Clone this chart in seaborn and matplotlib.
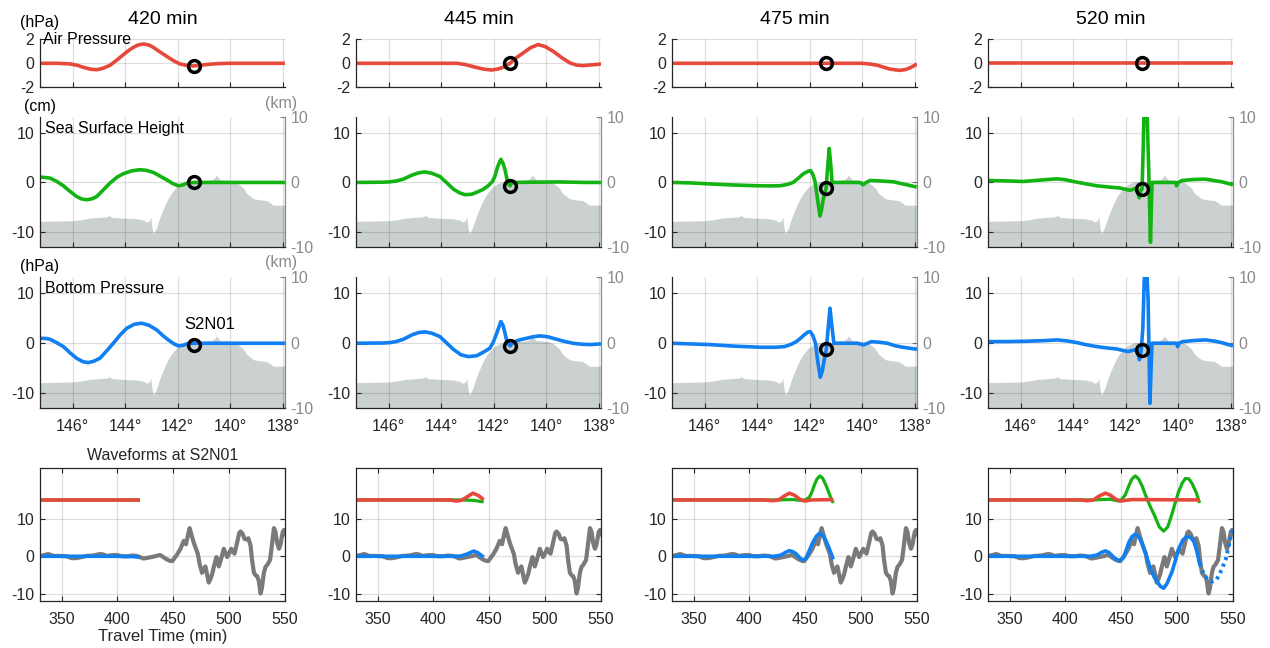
import matplotlib
matplotlib.use("Agg")
import matplotlib.pyplot as plt
import numpy as np
import pandas as pd
import seaborn as sns

# ---------------- data ----------------
times = [420, 445, 475, 520]
titles = ["420 min", "445 min", "475 min", "520 min"]
station_name = "S2N01"
station_lon = 141.38
lon_ticks = [146, 144, 142, 140, 138]
lon_tick_labels = ["146°", "144°", "142°", "140°", "138°"]
time_ticks = [350, 400, 450, 500, 550]

bathy_lon = [147.24, 146.6, 145.97, 145.6, 145.34, 145.0, 144.7, 144.6, 144.5, 144.1, 143.56, 143.3,
             143.18, 143.08, 143.03, 142.98, 142.93, 142.86, 142.8, 142.68, 142.55, 142.42, 142.3,
             142.17, 142.04, 141.85, 141.66, 141.4, 141.16, 140.9, 140.7, 140.6, 140.52, 140.45,
             140.4, 140.1, 139.89, 139.75, 139.64, 139.5, 139.38, 139.25, 139.13, 138.87, 138.62,
             138.5, 138.37, 137.92]
bathy_km = [-6.1, -6.05, -6.0, -5.8, -5.6, -5.5, -5.4, -5.2, -5.5, -5.6, -5.7, -5.9,
            -6.2, -6.0, -5.4, -7.0, -8.0, -7.5, -7.0, -5.5, -4.2, -3.0, -2.1,
            -1.4, -0.8, -0.3, 0.0, 0.05, 0.1, 0.2, 0.3, 0.6, 1.0, 0.6,
            0.3, 0.2, 0.1, -0.2, -0.5, -1.0, -1.8, -2.2, -2.6, -2.8, -2.9,
            -3.2, -3.6, -3.6]

# Air pressure (hPa) along the section
air_lon = [
    [147.24, 146.6, 146.1, 145.8, 145.6, 145.3, 145.08, 144.85, 144.58, 144.3, 144.07, 143.85, 143.69,
     143.5, 143.31, 143.1, 142.93, 142.7, 142.42, 142.15, 141.92, 141.65, 141.41, 141.15, 140.9, 140.5,
     140.0, 137.92],
    [147.24, 143.41, 143.1, 142.78, 142.4, 142.08, 141.85, 141.64, 141.38, 141.15, 140.88, 140.6, 140.31,
     140.05, 139.74, 139.4, 139.1, 138.85, 138.6, 138.2, 137.92],
    [147.24, 140.02, 139.7, 139.41, 139.2, 138.96, 138.58, 138.35, 138.2, 138.05, 137.92],
    [147.24, 137.92],
]
air_val = [
    [0, 0, -0.05, -0.18, -0.33, -0.5, -0.53, -0.42, -0.17, 0.3, 0.72, 1.1, 1.33,
     1.53, 1.61, 1.53, 1.33, 0.98, 0.58, 0.2, -0.05, -0.18, -0.22, -0.17, -0.1, -0.03,
     0, 0],
    [0, 0, -0.1, -0.28, -0.48, -0.56, -0.48, -0.33, 0, 0.45, 0.86, 1.3, 1.56,
     1.4, 1.0, 0.45, 0.03, -0.15, -0.19, -0.12, -0.06],
    [0, 0, -0.06, -0.17, -0.32, -0.48, -0.59, -0.52, -0.39, -0.22, -0.06],
    [0, 0],
]

# Sea surface height (cm)
ssh_lon = [
    [147.24, 147.05, 146.86, 146.6, 146.35, 146.1, 145.85, 145.65, 145.46, 145.25, 145.08, 144.85, 144.58,
     144.3, 144.07, 143.75, 143.44, 143.2, 142.93, 142.7, 142.42, 142.2, 141.98, 141.8, 141.66, 141.38,
     137.92],
    [147.24, 146.2, 145.95, 145.7, 145.44, 145.1, 144.85, 144.62, 144.35, 144.05, 143.8, 143.54, 143.3,
     143.1, 142.85, 142.65, 142.4, 142.21, 142.05, 141.96, 141.85, 141.73, 141.65, 141.57, 141.49, 141.44,
     141.38, 141.32, 141.26, 140.5, 139.5, 138.5, 137.92],
    [147.24, 146.5, 145.92, 145.0, 144.02, 143.5, 143.13, 142.85, 142.63, 142.45, 142.25, 142.05, 141.97,
     141.88, 141.8, 141.7, 141.61, 141.55, 141.49, 141.38, 141.32, 141.26, 141.2, 141.15, 140.09, 139.97,
     139.85, 139.7, 139.3, 138.82, 138.55, 138.31, 137.93],
    [147.24, 146.5, 145.9, 145.2, 144.63, 144.3, 144.0, 143.5, 143.11, 142.6, 142.22, 141.84, 141.66,
     141.59, 141.49, 141.42, 141.38, 141.34, 141.29, 141.21, 141.13, 141.06, 141.02, 141.0, 140.1, 140.07,
     140.0, 139.85, 139.4, 138.98, 138.6, 138.35, 137.92],
]
ssh_val = [
    [1.08, 1.0, 0.88, 0.2, -0.68, -1.8, -2.84, -3.35, -3.5, -3.3, -2.84, -1.6, -0.14,
     1.1, 1.76, 2.35, 2.57, 2.45, 2.03, 1.35, 0.54, -0.2, -0.68, -0.5, -0.14, 0,
     0],
    [0, 0.05, 0.13, 0.3, 0.67, 1.5, 1.95, 2.13, 1.85, 1.2, 0.0, -1.33, -2.1,
     -2.47, -2.4, -2.0, -1.4, -0.67, 0.2, 1.2, 3.2, 4.67, 3.9, 2.53, 0.5, -0.3,
     -0.67, -0.2, 0, 0.05, 0.1, 0, 0],
    [0, -0.1, -0.27, -0.5, -0.67, -0.7, -0.67, -0.4, 0, 0.8, 1.73, 2.3, 2.4,
     1.6, 0.2, -3.5, -6.8, -5.5, -3.47, -1.2, 3.0, 6.87, 3.5, 0, 0, -0.47,
     0, 0.4, 0.3, 0.13, -0.2, -0.47, -0.93],
    [0.4, 0.3, 0.2, 0.5, 0.73, 0.55, 0.2, -0.3, -0.67, -0.95, -1.13, -1.6, -1.3,
     -1.13, -3.1, -1.5, -1.33, 6.0, 18.0, 18.0, 3.2, -12.1, -4.0, 0, 0, -0.67,
     0, 0.4, 0.6, 0.67, 0.35, 0.13, -0.47],
]

# Bottom pressure (hPa)
bp_lon = [
    [147.24, 147.0, 146.86, 146.6, 146.35, 146.1, 145.85, 145.6, 145.4, 145.2, 144.96, 144.7, 144.45,
     144.2, 143.94, 143.65, 143.37, 143.1, 142.8, 142.58, 142.36, 142.15, 141.98, 141.8, 141.66, 141.5,
     141.38, 137.92],
    [147.24, 146.2, 145.95, 145.7, 145.44, 145.1, 144.85, 144.62, 144.35, 144.05, 143.8, 143.54, 143.25,
     142.97, 142.65, 142.4, 142.15, 142.02, 141.9, 141.73, 141.65, 141.57, 141.5, 141.38, 141.28, 141.2,
     141.0, 140.75, 140.5, 140.24, 139.95, 139.61, 139.3, 138.98, 138.65, 138.34, 137.92],
    [147.24, 145.81, 144.8, 143.86, 143.3, 142.96, 142.7, 142.51, 142.35, 142.21, 142.08, 141.98, 141.88,
     141.78, 141.7, 141.6, 141.52, 141.45, 141.37, 141.3, 141.23, 141.16, 141.08, 140.2, 139.95, 139.8,
     139.65, 139.35, 139.05, 138.75, 138.46, 137.92],
    [147.24, 146.56, 145.8, 145.06, 144.61, 144.2, 143.86, 143.5, 143.11, 142.7, 142.36, 141.91, 141.68,
     141.55, 141.48, 141.41, 141.35, 141.3, 141.25, 141.21, 141.15, 141.08, 141.03, 141.0, 140.06, 140.03,
     139.98, 139.83, 139.4, 138.96, 138.6, 138.36, 137.92],
]
bp_val = [
    [1.0, 0.95, 0.8, 0.1, -0.67, -1.9, -3.0, -3.7, -3.87, -3.6, -3.0, -1.5, 0,
     1.6, 3.0, 3.8, 4.0, 3.6, 2.67, 1.6, 0.67, -0.1, -0.53, -0.4, -0.13, -0.05,
     0, 0],
    [0, 0.05, 0.13, 0.35, 0.8, 1.7, 2.15, 2.27, 2.0, 1.33, 0.1, -1.2, -2.3,
     -2.67, -2.5, -1.8, -1.0, 0.2, 1.8, 4.33, 3.6, 2.0, 0.3, -0.53, 0.1, 0.33,
     0.7, 1.0, 1.3, 1.47, 1.3, 0.8, 0.35, 0, -0.2, -0.27, -0.13],
    [0, -0.27, -0.6, -0.8, -0.8, -0.67, -0.2, 0.33, 1.0, 1.67, 2.2, 2.33, 1.5,
     0, -3.5, -6.8, -5.5, -3.3, -1.2, 3.0, 7.0, 3.5, 0, 0, -0.33, 0,
     0.33, 0.2, 0, -0.5, -0.8, -1.2],
    [0.33, 0.33, 0.4, 0.53, 0.67, 0.45, 0.13, -0.3, -0.67, -0.95, -1.13, -1.67, -1.33,
     -1.5, -3.3, -1.33, 3.0, 12.0, 17.0, 16.0, 8.67, -12.0, -4.0, 0, 0, -0.67,
     0, 0.33, 0.55, 0.67, 0.4, 0.13, -0.53],
]

circle_air = [-0.22, 0.0, 0.0, 0.0]
circle_ssh = [0.0, -0.67, -1.2, -1.33]
circle_bp = [-0.25, -0.53, -1.2, -1.33]

# Observed bottom-pressure waveform at S2N01 (gray)
obs_t = [330, 334, 338, 342.5, 348, 354.5, 359, 363, 366.4, 372.4, 378, 384.3, 387, 390.3, 395, 399.3,
         404, 408.2, 413, 417.2, 420, 423.1, 427, 432.1, 435, 438, 441, 444, 447, 449, 451, 453, 456.3,
         459.3, 461.4, 463, 464.6, 466, 468.3, 470, 471.9, 473.5, 475.7, 477, 478.7, 480, 481.7, 483,
         484.7, 486.5, 488.6, 489.7, 490.7, 492.5, 495.2, 496.5, 498.2, 500, 501.8, 503, 504.8, 507, 509,
         510.2, 512, 513.8, 515.6, 517.2, 519.2, 520.5, 522.2, 523.5, 525.1, 526.5, 528.1, 529.3, 531.1,
         532.6, 534.1, 536.6, 538.5, 540.1, 541.5, 543, 544.6, 546, 548, 549.1, 550]
obs_v = [0, 0.3, 0.6, 0.1, 0.1, 0, -0.5, -0.5, -0.3, 0.1, 0.2, 0.6, 0.5, 0.1, 0.3, 0.35,
         0, 0, 0.2, 0.1, -0.2, -0.6, -0.4, -0.1, 0.1, 0.36, -0.2, -0.8, -1.2, -1.3, -0.5, 0.3, 1.95,
         4.1, 3.2, 5.5, 7.5, 6.0, 3.6, 2.2, 0.7, -2.0, -4.4, -3.6, -2.7, -4.5, -7.0, -6.2,
         -4.8, -2.5, -0.2, -1.2, -2.7, -1.0, 2.0, 1.0, -0.2, 0.8, 2.0, 1.4, 0.7, 3.5, 6.2,
         6.6, 6.0, 4.6, 4.5, 4.8, 2.8, -1.0, -4.4, -5.0, -5.3, -6.5, -9.9, -8.5, -4.4,
         -2.8, -2.3, -1.0, 3.5, 7.5, 6.5, 3.5, 2.0, 3.2, 6.5, 7.0, 5.3]

# Simulated waveforms per snapshot (air pressure and SSH offset by +15)
wf_red_t = [
    [330, 420],
    [330, 415, 420.4, 425, 430, 435.3, 440, 445],
    [330, 414, 420.7, 426, 431, 435.7, 440, 445, 449.1, 455, 475],
    [330, 414, 419.3, 425, 430, 435.7, 440, 445, 449.1, 454, 459.6, 520],
]
wf_red_v = [
    [15, 15],
    [15, 15, 14.7, 14.9, 15.8, 16.8, 16.2, 15.1],
    [15, 15, 14.8, 15.0, 16.0, 16.8, 16.3, 15.2, 14.7, 15.0, 15.1],
    [15, 15, 14.8, 15.0, 16.0, 16.8, 16.3, 15.2, 14.7, 14.9, 15.1, 15.0],
]
wf_green_t = [
    [330, 418, 420],
    [330, 425, 435, 440, 445],
    [330, 425, 438.7, 446, 450, 453.6, 456, 458, 460.5, 463.1, 465.5, 468.5, 471, 473, 475],
    [330, 425, 440, 447.6, 450.5, 453.6, 456.5, 459.5, 462.5, 465.5, 468.5, 471.5, 476, 480.4, 484,
     487.9, 491.5, 495.4, 498.5, 501.3, 504.5, 507.3, 510.5, 513.3, 517, 520.1],
]
wf_green_v = [
    [15, 15, 14.7],
    [15, 15, 14.9, 14.7, 14.5],
    [15, 15, 15.1, 14.9, 15.0, 15.7, 17.2, 18.9, 20.6, 21.4, 20.8, 18.9, 17.0, 15.5, 14.2],
    [15, 15, 15.2, 14.7, 15.2, 16.4, 18.6, 20.6, 21.4, 20.6, 18.8, 16.4, 13.2, 10.4, 7.8,
     6.7, 7.8, 11.3, 14.5, 17.2, 19.5, 20.7, 20.6, 19.4, 17.0, 14.2],
]
wf_blue_t = [
    [330, 400, 415, 420],
    [330, 420, 425, 430, 436, 440, 443, 445],
    [330, 422, 428, 432, 435.7, 439, 441.6, 445, 447.6, 450.6, 453.5, 456.6, 460, 463.1, 466, 468.5,
     471, 473, 475],
    [330, 422, 428, 432, 435.7, 439, 441.6, 444.5, 447.6, 450, 452.1, 454.5, 456.6, 459.5, 462.5,
     465.5, 468.5, 472, 476, 479, 481.9, 485, 487.9, 491, 495.4, 498.5, 501.3, 505, 508.8, 512,
     514.8, 517.5, 520.1],
]
wf_blue_v = [
    [0, 0, -0.1, -0.3],
    [0, 0, 0.1, 0.6, 1.4, 0.9, 0.2, -0.2],
    [0, 0, 0.3, 1.0, 1.5, 1.2, 0.7, -0.4, -1.0, -0.6, 1.5, 3.6, 5.4, 6.2, 5.4, 4.1,
     2.4, 0.8, -0.8],
    [0, 0, 0.3, 1.0, 1.45, 1.0, 0.2, -0.6, -1.1, -0.9, -0.3, 1.8, 3.6, 5.2, 5.9,
     5.2, 3.6, 0.5, -3.2, -5.3, -6.7, -8.0, -8.5, -7.2, -4.1, -1.0, 1.9, 4.3, 5.3, 5.0,
     4.0, 1.5, -2.0],
]
pred_t = [520.1, 522, 525, 527.2, 531.7, 535, 537.6, 540.5, 543.6, 546, 548.1, 550]
pred_v = [-2.0, -3.5, -5.2, -6.2, -6.7, -6.3, -5.0, -3.0, -0.7, 2.5, 5.4, 7.5]

# ---------------- style ----------------
sns.set_theme(style="white")
plt.rcParams["font.family"] = ["Liberation Sans", "DejaVu Sans"]
plt.rcParams["axes.unicode_minus"] = False

RED = "#e6493b"
GREEN = "#12b312"
BLUE = "#0f7ff2"
GRAY = "#7a7a7a"
LAND = "#cbd0d0"
INK = "#262626"
RGRAY = "#8a8a8a"
LW = 2.6
FS = 11.5

W, H = 1270, 648
fig = plt.figure(figsize=(12.7, 6.48), dpi=100)
col_left = [40, 356, 672, 988]
AXW = 245


def make_axes(left, top, bottom):
    return fig.add_axes([left / W, 1 - bottom / H, AXW / W, (bottom - top) / H])


def line(ax, x, y, color, lw=LW, **kw):
    df = pd.DataFrame({"x": x, "y": y})
    sns.lineplot(data=df, x="x", y="y", ax=ax, color=color, linewidth=lw, sort=False,
                 errorbar=None, solid_capstyle="butt", **kw)
    ax.set_xlabel("")
    ax.set_ylabel("")


def set_grid(ax):
    ax.grid(True, color="black", alpha=0.13, linewidth=0.9)


def style_section(ax, ylim, yticks, show_xlabels):
    ax.set_xlim(147.24, 137.92)
    ax.set_ylim(*ylim)
    ax.set_xticks(lon_ticks)
    ax.set_xticklabels(lon_tick_labels if show_xlabels else [])
    ax.set_yticks(yticks)
    ax.set_yticklabels([str(t) for t in yticks])
    set_grid(ax)
    for s in ["top", "right"]:
        ax.spines[s].set_visible(False)
    for s in ["left", "bottom"]:
        ax.spines[s].set_color(INK)
        ax.spines[s].set_linewidth(0.9)
    ax.tick_params(direction="in", length=3.5, width=0.8, colors=INK, labelsize=FS, pad=4,
                   bottom=True, left=True)
    ax.tick_params(axis="x", pad=8)


def station(ax, val):
    ax.plot([station_lon], [val], marker="o", ms=8.5, mfc="none", mec="black", mew=2.5,
            linestyle="none", zorder=10)


rows_tb = [(39.3, 87.3), (116.7, 246.7), (276.7, 408.3), (468.0, 601.0)]

for c in range(4):
    L = col_left[c]
    # --- Row 1: air pressure ---
    ax1 = make_axes(L, *rows_tb[0])
    line(ax1, air_lon[c], air_val[c], RED)
    station(ax1, circle_air[c])
    style_section(ax1, (-2, 2), [-2, 0, 2], False)
    ax1.set_title(titles[c], fontsize=14, pad=11, color="black")

    # --- Rows 2 and 3: SSH and bottom pressure with bathymetry ---
    for r, (lons, vals, circ, col) in enumerate([(ssh_lon, ssh_val, circle_ssh, GREEN),
                                                  (bp_lon, bp_val, circle_bp, BLUE)]):
        ax = make_axes(L, *rows_tb[r + 1])
        ax2 = ax.twinx()
        ax2.fill_between(bathy_lon, bathy_km, -10, color=LAND, linewidth=0)
        ax2.set_ylim(-10, 10)
        ax2.set_yticks([-10, 0, 10])
        ax2.set_yticklabels(["-10", "0", "10"])
        ax2.tick_params(direction="in", length=3.5, width=0.8, colors=RGRAY, labelsize=FS, pad=4)
        for s in ["top", "left", "bottom"]:
            ax2.spines[s].set_visible(False)
        ax2.spines["right"].set_color(RGRAY)
        ax2.spines["right"].set_linewidth(0.9)
        ax2.grid(False)
        ax.set_zorder(ax2.get_zorder() + 1)
        ax.patch.set_visible(False)
        line(ax, lons[c], vals[c], col)
        station(ax, circ[c])
        style_section(ax, (-13, 13.3), [-10, 0, 10], r == 1)
        if c == 0:
            ax.text(0.985, 1.105, "(km)", transform=ax.transAxes, ha="center", va="center",
                    fontsize=FS, color=RGRAY)
            ax.text(0.0, 1.08, "(cm)" if r == 0 else "(hPa)", transform=ax.transAxes,
                    ha="center", va="center", fontsize=FS, color="black")
            ax.text(0.02, 0.91, "Sea Surface Height" if r == 0 else "Bottom Pressure",
                    transform=ax.transAxes, ha="left", va="center", fontsize=FS, color="black")
            if r == 1:
                ax.text(140.78, 3.8, station_name, ha="center", va="center", fontsize=FS + 0.5,
                        color="black")

    if c == 0:
        ax1.text(0.0, 1.34, "(hPa)", transform=ax1.transAxes, ha="center", va="center",
                 fontsize=FS, color="black")
        ax1.text(0.012, 1.0, "Air Pressure", transform=ax1.transAxes, ha="left", va="center",
                 fontsize=FS, color="black")

    # --- Row 4: waveforms ---
    ax4 = make_axes(L, *rows_tb[3])
    line(ax4, obs_t, obs_v, GRAY, lw=3.0)
    line(ax4, wf_blue_t[c], wf_blue_v[c], BLUE)
    if c == 3:
        line(ax4, pred_t, pred_v, BLUE, lw=2.8, linestyle=(0, (0.8, 1.0)))
    line(ax4, wf_green_t[c], wf_green_v[c], GREEN, lw=LW - 0.3)
    line(ax4, wf_red_t[c], wf_red_v[c], RED)
    ax4.set_xlim(330.6, 550)
    ax4.set_ylim(-11.9, 23.5)
    ax4.set_xticks(time_ticks)
    ax4.set_xticklabels([str(t) for t in time_ticks])
    ax4.set_yticks([-10, 0, 10])
    ax4.set_yticklabels(["-10", "0", "10"])
    set_grid(ax4)
    for s in ax4.spines.values():
        s.set_visible(True)
        s.set_color(INK)
        s.set_linewidth(0.9)
    ax4.tick_params(direction="in", length=3.5, width=0.8, colors=INK, labelsize=FS, pad=4,
                    bottom=True, left=True, top=True, right=True, labeltop=False, labelright=False)
    ax4.tick_params(axis="x", pad=8)
    if c == 0:
        ax4.set_title("Waveforms at " + station_name, fontsize=FS, pad=6, color=INK)
        ax4.set_xlabel("Travel Time (min)", fontsize=FS + 0.5, labelpad=1, color=INK)

fig.savefig("out.png", dpi=100)
